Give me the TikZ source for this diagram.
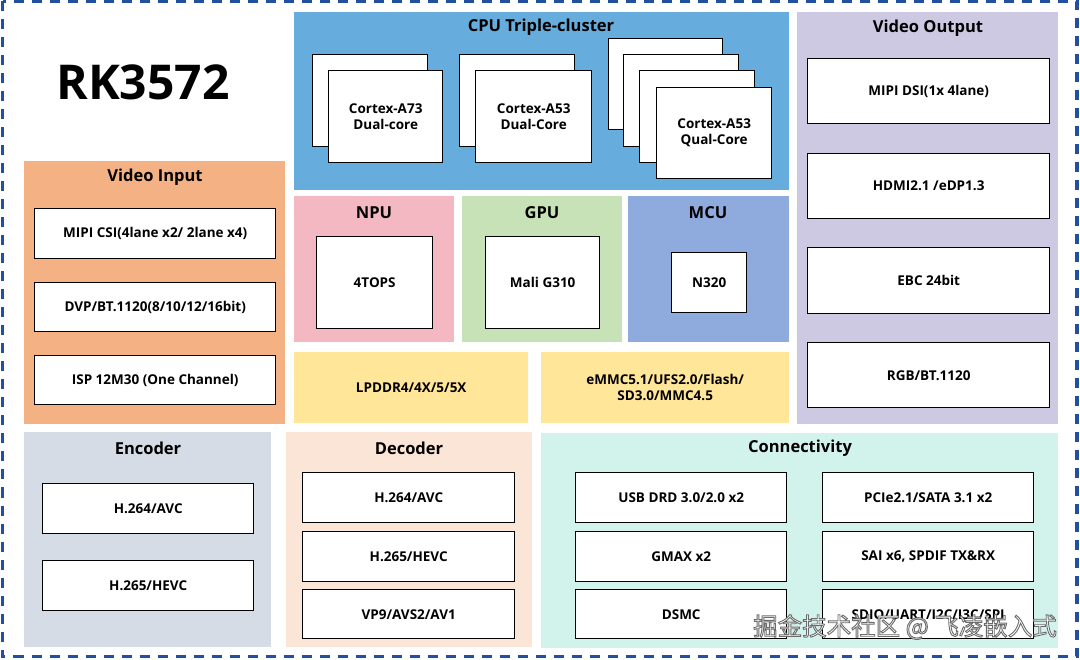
\documentclass[tikz,border=0pt]{standalone}
\usepackage{fontspec}
\setmainfont{Open Sans}
\newfontfamily\cjk{Noto Sans CJK SC}
\definecolor{brd}{RGB}{33,80,160}
\definecolor{cpuc}{RGB}{102,172,221}
\definecolor{vinc}{RGB}{244,178,132}
\definecolor{npuc}{RGB}{244,184,194}
\definecolor{gpuc}{RGB}{199,226,182}
\definecolor{mcuc}{RGB}{143,171,222}
\definecolor{memc}{RGB}{255,230,153}
\definecolor{voutc}{RGB}{205,201,226}
\definecolor{encc}{RGB}{214,220,229}
\definecolor{decc}{RGB}{251,229,214}
\definecolor{conc}{RGB}{210,242,236}
\newcommand\blk[7]{\node[#2, anchor=north west, minimum width={(#5)-(#3)}, minimum height={(#6)-(#4)}] (#1) at (#3,#4) {#7};}
\begin{document}
\begin{tikzpicture}[x=1pt,y=-1pt,
  panel/.style={rectangle, draw=none, inner sep=0, fill=#1, font=\fontsize{13.5}{16}\selectfont\bfseries, align=center},
  wbox/.style={rectangle, draw=black, fill=white, line width=1.4pt, inner sep=0, font=\fontsize{13.5}{16}\selectfont\bfseries, align=center},
  ttl/.style={font=\fontsize{16.5}{19}\selectfont\bfseries, inner sep=0}]
\useasboundingbox (0,0) rectangle (1080,660);
\fill[white] (0,0) rectangle (1080,660);
% panels
\blk{vin}{panel=vinc}{24}{161}{285}{424}{}
\blk{cpu}{panel=cpuc}{294}{12}{789}{190}{}
\blk{npu}{panel=npuc}{294}{196}{454}{342}{}
\blk{gpu}{panel=gpuc}{462}{196}{622}{342}{}
\blk{mcu}{panel=mcuc}{628}{196}{789}{342}{}
\blk{ddr}{panel=memc}{294}{352}{528}{423}{LPDDR4/4X/5/5X}
\blk{emmc}{panel=memc}{541}{352}{789}{423}{eMMC5.1/UFS2.0/Flash/\\SD3.0/MMC4.5}
\blk{vout}{panel=voutc}{797}{12}{1058}{424}{}
\blk{enc}{panel=encc}{24}{432}{271}{647}{}
\blk{dec}{panel=decc}{286}{432}{532}{647}{}
\blk{con}{panel=conc}{541}{433}{1058}{648}{}
% titles
\node[inner sep=0, font=\fontsize{48}{50}\selectfont\bfseries] (rk) at (143,82) {RK3572};
\node[ttl] (tcpu) at (541,27) {CPU Triple-cluster};
\node[ttl] (tvout) at (928,28) {Video Output};
\node[ttl] (tvin) at (155,177) {Video Input};
\node[ttl] (tnpu) at (374,213) {NPU};
\node[ttl] (tgpu) at (542,213) {GPU};
\node[ttl] (tmcu) at (708,213) {MCU};
\node[ttl] (tenc) at (148,448) {Encoder};
\node[ttl] (tdec) at (409,448) {Decoder};
\node[ttl] (tcon) at (800,448) {Connectivity};
% video input
\blk{vin1}{wbox}{34}{208}{275}{258}{MIPI CSI(4lane x2/ 2lane x4)}
\blk{vin2}{wbox}{34}{282}{275}{331}{DVP/BT.1120(8/10/12/16bit)}
\blk{vin3}{wbox}{34}{355}{275}{404}{ISP 12M30 (One Channel)}
% cpu
\blk{a73b}{wbox}{312}{54}{427}{146}{}
\blk{a73}{wbox}{328}{70}{442}{162}{Cortex-A73\\Dual-core}
\blk{a53b}{wbox}{459}{54}{574}{146}{}
\blk{a53}{wbox}{475}{70}{591}{162}{Cortex-A53\\Dual-Core}
\blk{q1}{wbox}{608}{38}{722}{129}{}
\blk{q2}{wbox}{623}{54}{738}{146}{}
\blk{q3}{wbox}{639}{70}{754}{162}{}
\blk{q4}{wbox}{656}{87}{771}{178}{Cortex-A53\\Qual-Core}
% npu gpu mcu
\blk{npub}{wbox}{316}{236}{432}{328}{4TOPS}
\blk{gpub}{wbox}{485}{236}{599}{328}{Mali G310}
\blk{mcub}{wbox}{671}{252}{746}{312}{N320}
% video output
\blk{vo1}{wbox}{807}{58}{1049}{123}{MIPI DSI(1x 4lane)}
\blk{vo2}{wbox}{807}{153}{1049}{218}{HDMI2.1 /eDP1.3}
\blk{vo3}{wbox}{807}{247}{1049}{313}{EBC 24bit}
\blk{vo4}{wbox}{807}{342}{1049}{407}{RGB/BT.1120}
% encoder
\blk{en1}{wbox}{42}{483}{253}{533}{H.264/AVC}
\blk{en2}{wbox}{42}{560}{253}{610}{H.265/HEVC}
% decoder
\blk{de1}{wbox}{302}{472}{514}{522}{H.264/AVC}
\blk{de2}{wbox}{302}{531}{514}{581}{H.265/HEVC}
\blk{de3}{wbox}{302}{589}{514}{638}{VP9/AVS2/AV1}
% connectivity
\blk{c1}{wbox}{575}{472}{786}{522}{USB DRD 3.0/2.0 x2}
\blk{c2}{wbox}{822}{472}{1033}{522}{PCIe2.1/SATA 3.1 x2}
\blk{c3}{wbox}{575}{531}{786}{581}{GMAX x2}
\blk{c4}{wbox}{822}{531}{1033}{581}{SAI x6, SPDIF TX\&RX}
\blk{c5}{wbox}{575}{589}{786}{638}{DSMC}
\blk{c6}{wbox}{822}{589}{1033}{638}{SDIO/UART/I2C/I3C/SPI}
% dashed border
\draw[brd, line width=3.5pt, dash pattern=on 10pt off 8pt] (2.5,1.5) rectangle (1077,656.5);
% watermark: white fill, grey outline
\node[inner sep=0, text=white, font=\cjk\fontsize{24.5}{26}\selectfont] (wm) at (905,627)
  {\special{pdf:code q 0.42 G 0.9 w 2 Tr}掘金技术社区 @ 飞凌嵌入式\special{pdf:code Q}};
\end{tikzpicture}
\end{document}
